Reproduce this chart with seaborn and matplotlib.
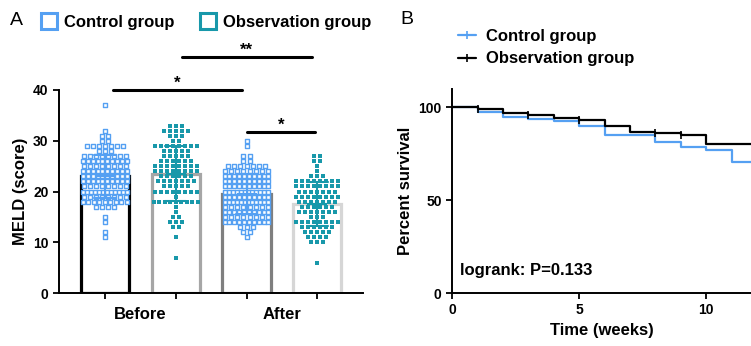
import numpy as np
import pandas as pd
import matplotlib
matplotlib.use("Agg")
import matplotlib.pyplot as plt
from matplotlib.lines import Line2D
import seaborn as sns

# ---- data: MELD scores (value -> number of patients) ----
ctrl_before_vals = [37, 32, 31, 30, 29, 28, 27, 26, 25, 24, 23, 22, 21, 20, 19, 18, 17, 15, 14, 12, 11]
ctrl_before_cnts = [1, 1, 2, 2, 7, 3, 8, 10, 8, 10, 10, 10, 8, 12, 8, 9, 4, 1, 1, 1, 1]
obs_before_vals = [33, 32, 31, 30, 29, 28, 27, 26, 25, 24, 23, 22, 21, 20, 19, 18, 17, 16, 15, 14, 13, 11, 7]
obs_before_cnts = [3, 5, 3, 2, 8, 5, 5, 6, 8, 8, 6, 7, 5, 8, 1, 9, 1, 1, 2, 3, 2, 1, 1]
ctrl_after_vals = [30, 29, 27, 26, 25, 24, 23, 22, 21, 20, 19, 18, 17, 16, 15, 14, 13, 12, 11]
ctrl_after_cnts = [1, 1, 2, 2, 7, 8, 10, 10, 10, 12, 10, 12, 8, 10, 8, 10, 3, 2, 1]
obs_after_vals = [27, 26, 25, 24, 23, 22, 21, 20, 19, 18, 17, 16, 15, 14, 13, 12, 11, 10, 6]
obs_after_cnts = [2, 2, 1, 1, 3, 8, 8, 7, 8, 7, 6, 7, 3, 8, 6, 5, 4, 3, 1]

bar_names = ["ctrl_before", "obs_before", "ctrl_after", "obs_after"]
groups = ["Control group", "Observation group", "Control group", "Observation group"]
times = ["Before", "After"]

# ---- data: Kaplan-Meier curves ----
km_time_ctrl = [0, 1, 2, 3, 4, 5, 6, 8, 9, 10, 11, 12]
km_surv_ctrl = [100, 97.8, 95.0, 93.7, 92.6, 89.9, 85.2, 81.4, 78.7, 76.9, 70.8, 70.8]
km_time_obs = [0, 1, 2, 3, 4, 5, 6, 7, 8, 9, 10, 12]
km_surv_obs = [100, 99.3, 96.8, 95.9, 94.4, 93.3, 90.1, 86.8, 86.0, 85.0, 80.2, 80.2]
cens_time_obs = [1, 3, 5, 8, 9]
cens_surv_obs = [99.3, 95.9, 93.3, 86.0, 85.0]

blue = "#55a0f2"
teal = "#1898aa"
edge_cols = ["black", "#a6a6a6", "#7f7f7f", "#d6d6d6"]

# scatter layout: each score level is a centred row of points (GraphPad style)
frames = []
for i, (name, grp, vals, cnts) in enumerate(zip(bar_names, groups,
                                 [ctrl_before_vals, obs_before_vals, ctrl_after_vals, obs_after_vals],
                                 [ctrl_before_cnts, obs_before_cnts, ctrl_after_cnts, obs_after_cnts])):
    for v, n in zip(vals, cnts):
        step = 0.085 if n < 2 else min(0.085, 0.62 / (n - 1))
        offs = (np.arange(n) - (n - 1) / 2) * step
        frames.append(pd.DataFrame({"bar": name, "pos": i + offs, "group": grp, "MELD": v}))
df = pd.concat(frames, ignore_index=True)

sns.set_style("ticks")
plt.rcParams["font.family"] = ["Liberation Sans", "DejaVu Sans"]
plt.rcParams["font.weight"] = "bold"
plt.rcParams["axes.labelweight"] = "bold"
plt.rcParams["text.color"] = "black"
plt.rcParams["axes.labelcolor"] = "black"
plt.rcParams["xtick.color"] = "black"
plt.rcParams["ytick.color"] = "black"
plt.rcParams["axes.edgecolor"] = "black"

fig = plt.figure(figsize=(7.51, 3.46), dpi=100)
axA = fig.add_axes([0.0786, 0.153, 0.405, 0.587])
axB = fig.add_axes([0.602, 0.153, 0.398, 0.590])

pal = {"Control group": blue, "Observation group": teal}

# ---- panel A ----
sns.barplot(data=df, x="bar", y="MELD", order=bar_names, errorbar=None,
            width=0.68, color="white", ax=axA, zorder=1)
for p, ec in zip(axA.patches, edge_cols):
    p.set_edgecolor(ec)
    p.set_linewidth(2.3)
    p.set_facecolor("white")

ctrl = df[df["group"] == "Control group"]
obs = df[df["group"] == "Observation group"]
sns.scatterplot(x=ctrl["pos"], y=ctrl["MELD"], marker="s", s=8, facecolor="white",
                edgecolor=blue, linewidth=1.0, ax=axA, zorder=3, legend=False)
sns.scatterplot(x=obs["pos"], y=obs["MELD"], marker="s", s=11, color=teal,
                linewidth=0, ax=axA, zorder=3, legend=False)

sns.pointplot(data=df, x="bar", y="MELD", hue="group", order=bar_names, palette=pal,
              errorbar="sd", capsize=0.3, linestyle="none", marker="_", markersize=14,
              markeredgewidth=1.5, err_kws={"linewidth": 1.5}, legend=False, ax=axA, zorder=4)

axA.set_xlim(-0.648, 3.648)
axA.set_ylim(0, 40)
axA.set_yticks([0, 10, 20, 30, 40])
axA.set_xticks([0, 1, 2, 3])
axA.set_xticklabels([])
axA.set_xticks([0.5, 2.5], minor=True)
axA.set_xticklabels(times, minor=True, fontsize=12, fontweight="bold")
axA.tick_params(axis="x", which="minor", length=0, pad=10)
axA.tick_params(axis="both", which="major", length=4, width=1.3, labelsize=10)
axA.set_xlabel("")
axA.set_ylabel("MELD (score)", fontsize=12, fontweight="bold")
for s in ["left", "bottom"]:
    axA.spines[s].set_linewidth(1.4)
sns.despine(ax=axA)

# significance brackets
for x0, x1, yl, ys, txt in [(0.11, 1.94, 40.0, 41.4, "*"),
                            (1.09, 2.92, 46.5, 47.9, "**"),
                            (2.0, 2.97, 31.7, 33.1, "*")]:
    axA.plot([x0, x1], [yl, yl], color="black", lw=2.2, clip_on=False, zorder=5)
    axA.text((x0 + x1) / 2, ys, txt, ha="center", va="center", fontsize=12, clip_on=False)

legA = [Line2D([], [], marker="s", ls="none", markersize=12, markerfacecolor="white",
               markeredgecolor=c, markeredgewidth=2.2, label=g)
        for g, c in [("Control group", blue), ("Observation group", teal)]]
fig.legend(handles=legA, loc="center left", bbox_to_anchor=(0.045, 0.935), ncol=2,
           frameon=False, fontsize=12, handlelength=1.0, handletextpad=0.4,
           columnspacing=1.5, borderaxespad=0)
fig.text(0.013, 0.94, "A", fontsize=14, fontweight="normal", va="center")

# ---- panel B ----
km = pd.concat([
    pd.DataFrame({"time": km_time_ctrl, "surv": km_surv_ctrl, "group": "Control group"}),
    pd.DataFrame({"time": km_time_obs, "surv": km_surv_obs, "group": "Observation group"}),
], ignore_index=True)
km_pal = {"Control group": blue, "Observation group": "black"}
sns.lineplot(data=km, x="time", y="surv", hue="group", palette=km_pal, estimator=None,
             drawstyle="steps-post", linewidth=1.6, legend=False, ax=axB)
sns.scatterplot(x=cens_time_obs, y=cens_surv_obs, marker="|", s=30, color="black",
                linewidth=1.2, ax=axB, zorder=5)

axB.set_xlim(0, 11.76)
axB.set_ylim(0, 110)
axB.set_xticks([0, 5, 10])
axB.set_yticks([0, 50, 100])
axB.tick_params(axis="both", length=4, width=1.3, labelsize=10)
axB.set_xlabel("Time (weeks)", fontsize=12, fontweight="bold")
axB.set_ylabel("Percent survival", fontsize=12, fontweight="bold")
for s in ["left", "bottom"]:
    axB.spines[s].set_linewidth(1.4)
sns.despine(ax=axB)
axB.text(0.3, 12, "logrank: P=0.133", fontsize=12, fontweight="bold", va="center")

legB = [Line2D([], [], color=c, lw=1.6, marker="|", markersize=6, markeredgewidth=1.2, label=g)
        for g, c in [("Control group", blue), ("Observation group", "black")]]
fig.legend(handles=legB, loc="center left", bbox_to_anchor=(0.601, 0.862), ncol=1,
           frameon=False, fontsize=12, handlelength=1.1, handletextpad=0.6,
           labelspacing=0.45, borderaxespad=0)
fig.text(0.533, 0.945, "B", fontsize=14, fontweight="normal", va="center")

fig.savefig("out.png", dpi=100)
